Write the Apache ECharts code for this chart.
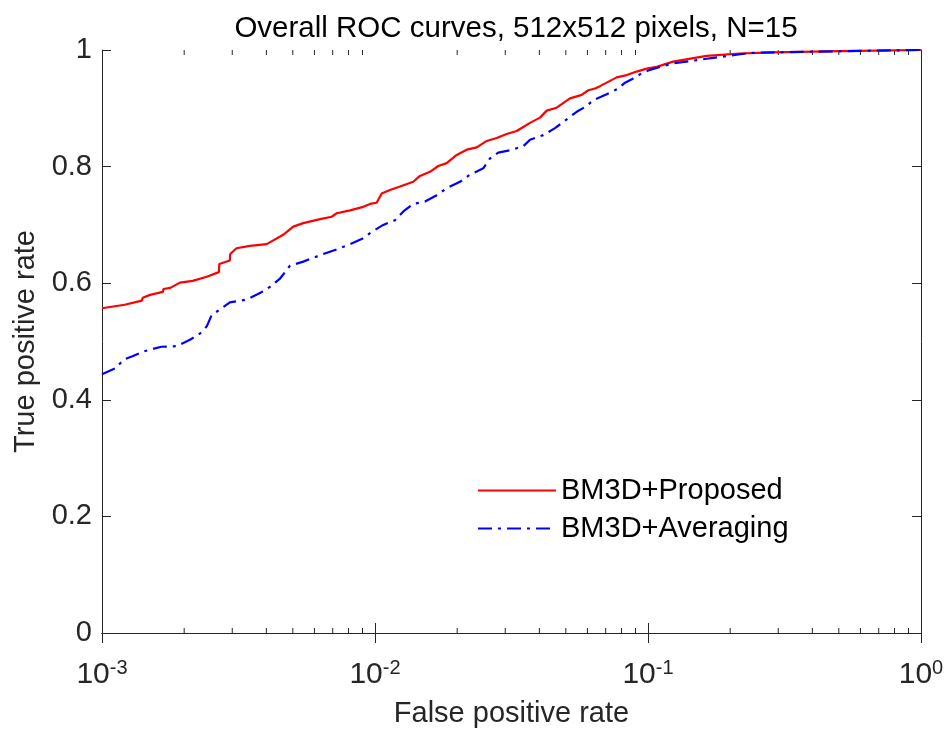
<!DOCTYPE html>
<html>
<head>
<meta charset="utf-8">
<script src="https://cdn.jsdelivr.net/npm/echarts@6/dist/echarts.min.js"></script>
<style>html,body{margin:0;padding:0;background:#fff;}#c{width:949px;height:729px;}</style>
</head>
<body>
<div id="c"></div>
<script>
const titleText = 'Overall ROC curves, 512x512 pixels, N=15';
const xName = 'False positive rate';
const yName = 'True positive rate';
const seriesNames = ['BM3D+Proposed', 'BM3D+Averaging'];
const yTicks = [0, 0.2, 0.4, 0.6, 0.8, 1];
const xMajorTicks = [0.001, 0.01, 0.1, 1];
const xMinorTicks = [0.002,0.003,0.004,0.005,0.006,0.007,0.008,0.009,
                     0.02,0.03,0.04,0.05,0.06,0.07,0.08,0.09,
                     0.2,0.3,0.4,0.5,0.6,0.7,0.8,0.9];

const fprProposed = [0.00100,0.00121,0.00140,0.00141,0.00150,0.00167,0.00168,0.00178,0.00193,0.00215,0.00242,0.00268,0.00269,0.00294,0.00295,0.00311,0.00348,0.00401,0.00461,0.00502,0.00546,0.00629,0.00694,0.00724,0.00810,0.00906,0.00959,0.01014,0.01058,0.01135,0.01235,0.01381,0.01461,0.01590,0.01706,0.01831,0.01992,0.02167,0.02359,0.02566,0.02792,0.03037,0.03304,0.03493,0.03697,0.04022,0.04256,0.04630,0.04830,0.05180,0.05718,0.06045,0.06397,0.06673,0.07060,0.07680,0.08356,0.09092,0.0989,0.1076,0.1235,0.164,0.217,0.287,0.505,1.0];
const tprProposed = [0.557,0.563,0.570,0.575,0.580,0.585,0.590,0.592,0.601,0.604,0.611,0.619,0.633,0.639,0.650,0.660,0.664,0.667,0.683,0.697,0.703,0.710,0.714,0.720,0.725,0.731,0.736,0.738,0.754,0.760,0.766,0.774,0.784,0.791,0.801,0.806,0.820,0.829,0.833,0.844,0.849,0.856,0.861,0.868,0.875,0.884,0.896,0.901,0.907,0.917,0.923,0.931,0.934,0.938,0.944,0.953,0.957,0.963,0.968,0.971,0.980,0.990,0.994,0.996,0.998,1.0];

const fprAveraging = [0.00100,0.00112,0.00120,0.00130,0.00142,0.00165,0.00188,0.00210,0.00229,0.00242,0.00252,0.00263,0.00294,0.00339,0.00379,0.00413,0.00449,0.00488,0.00546,0.00629,0.00724,0.00810,0.00906,0.00959,0.01072,0.01184,0.01270,0.01381,0.01525,0.01683,0.01831,0.02048,0.02228,0.02493,0.02638,0.02829,0.03122,0.03493,0.03697,0.04136,0.04564,0.05038,0.05481,0.05963,0.06304,0.07060,0.07785,0.08238,0.08835,0.09483,0.1017,0.1107,0.1235,0.164,0.205,0.236,0.505,1.0];
const tprAveraging = [0.444,0.454,0.469,0.475,0.483,0.491,0.492,0.503,0.514,0.526,0.545,0.551,0.567,0.572,0.583,0.594,0.608,0.630,0.637,0.648,0.658,0.667,0.677,0.686,0.700,0.708,0.723,0.736,0.740,0.751,0.763,0.774,0.786,0.797,0.814,0.824,0.828,0.835,0.846,0.854,0.866,0.881,0.894,0.904,0.914,0.924,0.934,0.944,0.951,0.960,0.966,0.971,0.977,0.985,0.991,0.995,0.998,1.0];

const FONT = '"Liberation Sans", Arial, Helvetica, sans-serif';
const AX = '#262626';

const pair = (xs, ys) => xs.map((x, i) => [x, ys[i]]);

const chart = echarts.init(document.getElementById('c'), null, {renderer: 'canvas'});

const xAxisCommon = {
  type: 'log', logBase: 10, min: xMajorTicks[0], max: xMajorTicks[xMajorTicks.length - 1],
  axisLine: {show: true, lineStyle: {color: AX, width: 1}},
  axisTick: {show: true, inside: true, length: 10, lineStyle: {color: AX}},
  splitLine: {show: false}, minorTick: {show: false}, minorSplitLine: {show: false}
};
const yAxisCommon = {
  type: 'value', min: yTicks[0], max: yTicks[yTicks.length - 1], interval: 0.2,
  axisLine: {show: true, lineStyle: {color: AX, width: 1}},
  axisTick: {show: true, inside: true, length: 9, lineStyle: {color: AX}},
  splitLine: {show: false}
};

chart.setOption({
  animation: false,
  backgroundColor: '#fff',
  textStyle: {fontFamily: FONT},
  title: {
    text: titleText, left: 511, top: 9, textAlign: 'center',
    textStyle: {fontFamily: FONT, fontSize: 29.5, fontWeight: 'normal', color: '#000'}
  },
  grid: {left: 102, right: 28, top: 50, bottom: 96, containLabel: false, outerBoundsMode: 'none'},
  legend: {
    data: seriesNames, orient: 'vertical', left: 472, top: 471,
    itemWidth: 78, itemHeight: 14, itemGap: 9,
    itemStyle: {opacity: 0},
    textStyle: {fontFamily: FONT, fontSize: 29, color: '#000'},
    backgroundColor: 'transparent', borderWidth: 0
  },
  xAxis: [
    Object.assign({}, xAxisCommon, {
      position: 'bottom',
      name: xName, nameLocation: 'middle', nameGap: 66,
      nameTextStyle: {fontFamily: FONT, fontSize: 29, color: AX},
      axisLabel: {
        show: true, margin: 25, color: AX,
        formatter: function (v) { return '{b|10}{s|' + Math.round(Math.log10(v)) + '}'; },
        rich: {
          b: {fontFamily: FONT, fontSize: 30, color: AX},
          s: {fontFamily: FONT, fontSize: 20, color: AX, verticalAlign: 'bottom', padding: [0, 0, 13, 0]}
        }
      }
    }),
    Object.assign({}, xAxisCommon, {position: 'top', axisLabel: {show: false}})
  ],
  yAxis: [
    Object.assign({}, yAxisCommon, {
      position: 'left',
      name: yName, nameLocation: 'middle', nameGap: 58,
      nameTextStyle: {fontFamily: FONT, fontSize: 29, color: AX},
      axisLabel: {show: true, margin: 10, color: AX, fontFamily: FONT, fontSize: 29}
    }),
    Object.assign({}, yAxisCommon, {position: 'right', axisLabel: {show: false}})
  ],
  series: [
    {
      type: 'custom', name: 'minorTicks', silent: true, z: 1,
      xAxisIndex: 0, yAxisIndex: 0,
      data: xMinorTicks.map(v => [v, 0]),
      encode: {x: 0, y: 1},
      renderItem: function (params, api) {
        const v = api.value(0);
        const b = api.coord([v, yTicks[0]]);
        const t = api.coord([v, yTicks[yTicks.length - 1]]);
        const st = {stroke: AX, lineWidth: 1};
        return {type: 'group', children: [
          {type: 'line', shape: {x1: b[0], y1: b[1], x2: b[0], y2: b[1] - 5}, style: st},
          {type: 'line', shape: {x1: t[0], y1: t[1], x2: t[0], y2: t[1] + 5}, style: st}
        ]};
      }
    },
    {
      type: 'line', name: seriesNames[0], data: pair(fprProposed, tprProposed),
      showSymbol: false, symbol: 'none', smooth: false, z: 3,
      lineStyle: {color: '#ff0000', width: 2.2},
      itemStyle: {color: '#ff0000'}
    },
    {
      type: 'line', name: seriesNames[1], data: pair(fprAveraging, tprAveraging),
      showSymbol: false, symbol: 'none', smooth: false, z: 4,
      lineStyle: {color: '#0000ff', width: 2.2, type: [14, 6, 3, 6]},
      itemStyle: {color: '#0000ff'}
    }
  ]
});
</script>
</body>
</html>
